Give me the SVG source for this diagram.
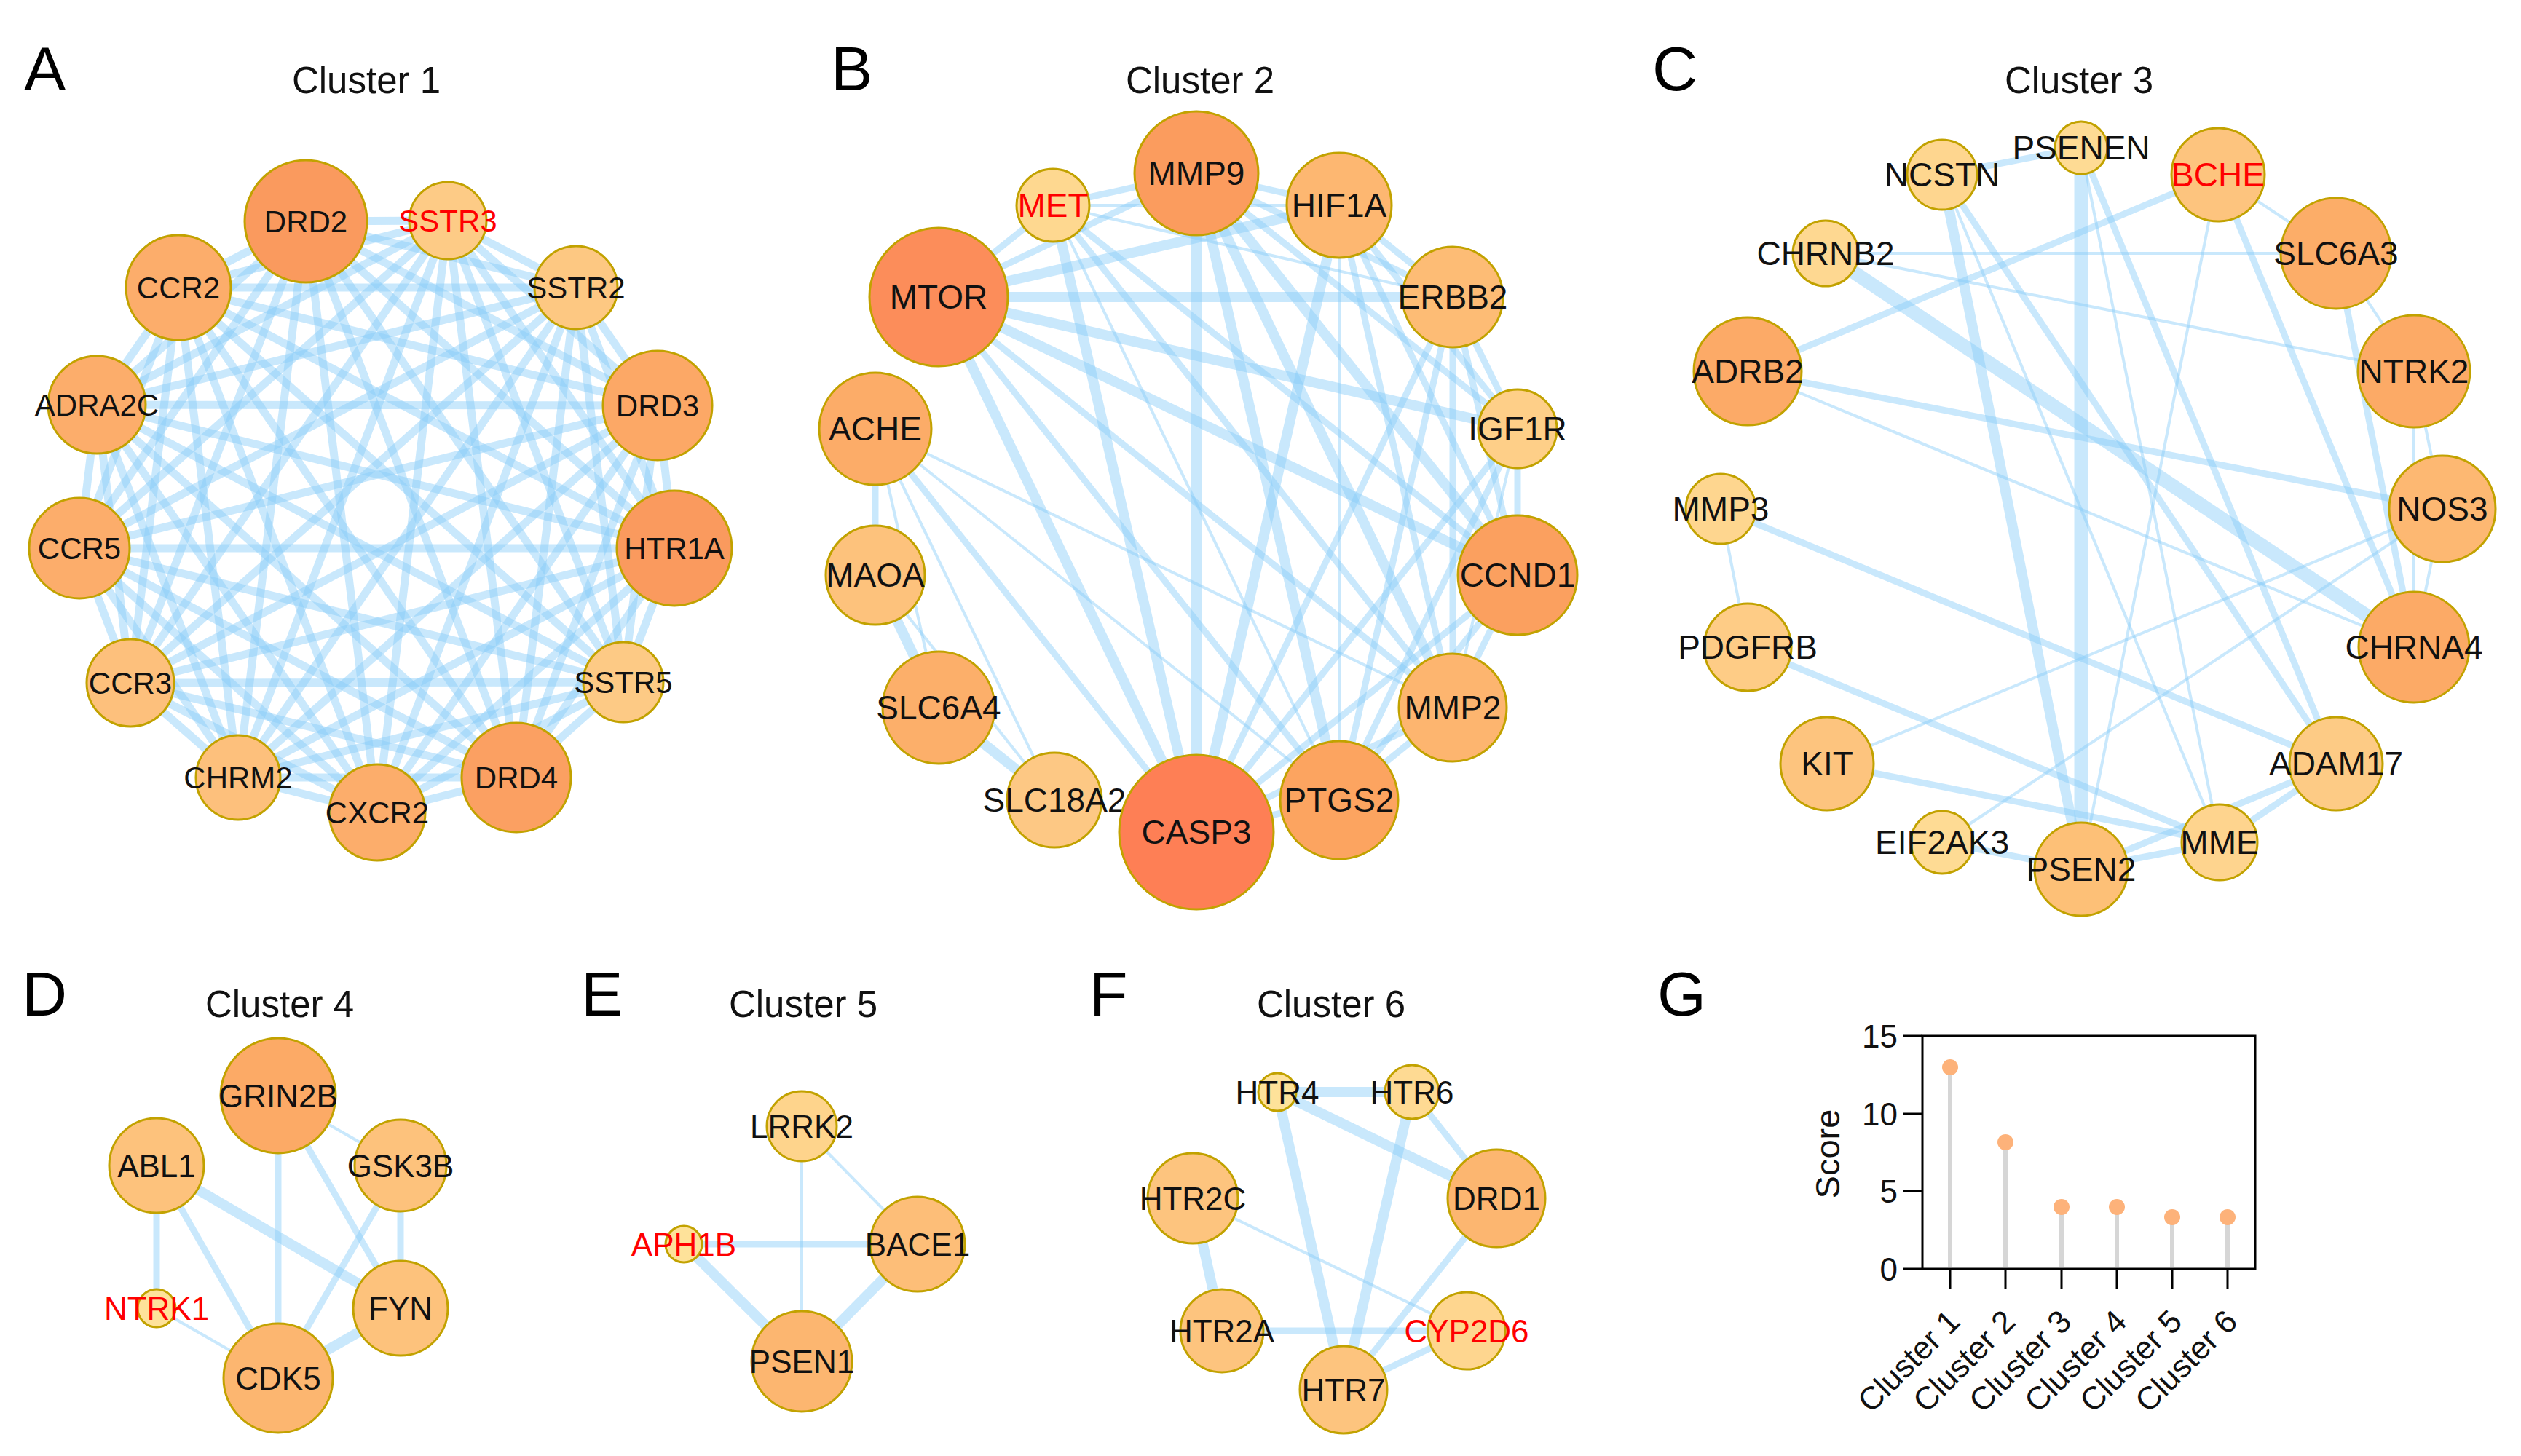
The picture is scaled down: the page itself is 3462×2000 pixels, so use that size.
<svg xmlns="http://www.w3.org/2000/svg" width="3462" height="2000" viewBox="0 0 3462 2000">
<style>
text{font-family:"Liberation Sans",Arial,sans-serif;fill:#111}
.pl{font-size:86px;fill:#000}
.ti{font-size:51px;text-anchor:middle}
.e path{stroke:#88ccf8;stroke-opacity:.45;fill:none}
.ea path{stroke-width:11}
.t{stroke-width:4}.m{stroke-width:9}.k{stroke-width:14}.x{stroke-width:19}
.n circle{stroke:#c2a200;stroke-width:3}
.n text{font-size:44px;text-anchor:middle}
.sa text{font-size:42px}
.sb text{font-size:46px}
.r text{fill:#ff0000}
.ax{stroke:#000;stroke-width:3;fill:none}
.tk{font-size:44px;text-anchor:end}
.xl{font-size:44px;text-anchor:end}
.st{stroke:#d6d6d6;stroke-width:6}
.dt{fill:#fdb27a}
</style>
<rect width="3462" height="2000" fill="#fff"/>
<g id="labels">
<text class="pl" x="33" y="124">A</text>
<text class="ti" x="503" y="128">Cluster 1</text>
<text class="pl" x="1141" y="124">B</text>
<text class="ti" x="1648" y="128">Cluster 2</text>
<text class="pl" x="2269" y="124">C</text>
<text class="ti" x="2855" y="128">Cluster 3</text>
<text class="pl" x="30" y="1395">D</text>
<text class="ti" x="384" y="1397">Cluster 4</text>
<text class="pl" x="798" y="1395">E</text>
<text class="ti" x="1103" y="1397">Cluster 5</text>
<text class="pl" x="1496" y="1395">F</text>
<text class="ti" x="1828" y="1397">Cluster 6</text>
<text class="pl" x="2276" y="1395">G</text>
</g>
<g id="connectors">
<g class="e ea">
<path d="M420 304 615 303"/><path d="M420 304 791 395"/><path d="M420 304 903 557"/><path d="M420 304 926 753"/><path d="M420 304 856 937"/><path d="M420 304 709 1068"/><path d="M420 304 518 1116"/><path d="M420 304 327 1068"/><path d="M420 304 179 938"/><path d="M420 304 109 753"/><path d="M420 304 133 556"/><path d="M420 304 245 395"/>
<path d="M615 303 791 395"/><path d="M615 303 903 557"/><path d="M615 303 926 753"/><path d="M615 303 856 937"/><path d="M615 303 709 1068"/><path d="M615 303 518 1116"/><path d="M615 303 327 1068"/><path d="M615 303 179 938"/><path d="M615 303 109 753"/><path d="M615 303 133 556"/><path d="M615 303 245 395"/>
<path d="M791 395 903 557"/><path d="M791 395 926 753"/><path d="M791 395 856 937"/><path d="M791 395 709 1068"/><path d="M791 395 518 1116"/><path d="M791 395 327 1068"/><path d="M791 395 179 938"/><path d="M791 395 109 753"/><path d="M791 395 133 556"/><path d="M791 395 245 395"/>
<path d="M903 557 926 753"/><path d="M903 557 856 937"/><path d="M903 557 709 1068"/><path d="M903 557 518 1116"/><path d="M903 557 327 1068"/><path d="M903 557 179 938"/><path d="M903 557 109 753"/><path d="M903 557 133 556"/><path d="M903 557 245 395"/>
<path d="M926 753 856 937"/><path d="M926 753 709 1068"/><path d="M926 753 518 1116"/><path d="M926 753 327 1068"/><path d="M926 753 179 938"/><path d="M926 753 109 753"/><path d="M926 753 133 556"/><path d="M926 753 245 395"/>
<path d="M856 937 709 1068"/><path d="M856 937 518 1116"/><path d="M856 937 327 1068"/><path d="M856 937 179 938"/><path d="M856 937 109 753"/><path d="M856 937 133 556"/><path d="M856 937 245 395"/>
<path d="M709 1068 518 1116"/><path d="M709 1068 327 1068"/><path d="M709 1068 179 938"/><path d="M709 1068 109 753"/><path d="M709 1068 133 556"/><path d="M709 1068 245 395"/>
<path d="M518 1116 327 1068"/><path d="M518 1116 179 938"/><path d="M518 1116 109 753"/><path d="M518 1116 133 556"/><path d="M518 1116 245 395"/>
<path d="M327 1068 179 938"/><path d="M327 1068 109 753"/><path d="M327 1068 133 556"/><path d="M327 1068 245 395"/>
<path d="M179 938 109 753"/><path d="M179 938 133 556"/><path d="M179 938 245 395"/>
<path d="M109 753 133 556"/><path d="M109 753 245 395"/>
<path d="M133 556 245 395"/>
</g>
<g class="e">
<path class="m" d="M1289 408 1446 282"/><path class="m" d="M1289 408 1643 238"/><path class="k" d="M1289 408 1839 282"/><path class="k" d="M1289 408 1995 408"/><path class="k" d="M1289 408 2084 589"/><path class="k" d="M1289 408 2084 790"/><path class="m" d="M1289 408 1995 972"/><path class="m" d="M1289 408 1839 1099"/><path class="k" d="M1289 408 1643 1143"/>
<path class="m" d="M1446 282 1643 238"/><path class="t" d="M1446 282 1839 282"/><path class="t" d="M1446 282 1995 408"/><path class="m" d="M1446 282 2084 790"/><path class="m" d="M1446 282 1995 972"/><path class="t" d="M1446 282 1839 1099"/><path class="k" d="M1446 282 1643 1143"/>
<path class="m" d="M1643 238 1839 282"/><path class="m" d="M1643 238 1995 408"/><path class="m" d="M1643 238 2084 589"/><path class="k" d="M1643 238 2084 790"/><path class="k" d="M1643 238 1995 972"/><path class="k" d="M1643 238 1839 1099"/><path class="k" d="M1643 238 1643 1143"/>
<path class="m" d="M1839 282 1995 408"/><path class="m" d="M1839 282 2084 589"/><path class="m" d="M1839 282 2084 790"/><path class="m" d="M1839 282 1995 972"/><path class="t" d="M1839 282 1839 1099"/><path class="k" d="M1839 282 1643 1143"/>
<path class="m" d="M1995 408 2084 589"/><path class="m" d="M1995 408 2084 790"/><path class="m" d="M1995 408 1995 972"/><path class="m" d="M1995 408 1839 1099"/><path class="m" d="M1995 408 1643 1143"/>
<path class="m" d="M2084 589 2084 790"/><path class="t" d="M2084 589 1995 972"/><path class="m" d="M2084 589 1839 1099"/><path class="m" d="M2084 589 1643 1143"/>
<path class="m" d="M2084 790 1995 972"/><path class="m" d="M2084 790 1839 1099"/><path class="m" d="M2084 790 1643 1143"/>
<path class="m" d="M1995 972 1839 1099"/><path class="m" d="M1995 972 1643 1143"/>
<path class="m" d="M1839 1099 1643 1143"/>
<path class="m" d="M1202 589 1202 790"/><path class="t" d="M1202 589 1289 972"/><path class="t" d="M1202 589 1448 1099"/><path class="m" d="M1202 589 1643 1143"/><path class="t" d="M1202 589 1839 1099"/><path class="t" d="M1202 589 1995 972"/>
<path class="k" d="M1202 790 1289 972"/><path class="t" d="M1202 790 1448 1099"/><path class="k" d="M1289 972 1448 1099"/>
</g>
<g class="e">
<path class="m" d="M2667 240 2858 203"/><path class="x" d="M2858 203 2858 1194"/><path class="k" d="M2667 240 2858 1194"/><path class="m" d="M2667 240 3208 1049"/><path class="t" d="M2667 240 3048 1157"/>
<path class="t" d="M2858 203 3048 1157"/><path class="m" d="M2858 203 3208 1049"/>
<path class="m" d="M3046 240 2400 510"/><path class="t" d="M3046 240 3208 348"/><path class="m" d="M3046 240 3315 889"/><path class="t" d="M3046 240 2858 1194"/>
<path class="t" d="M2507 348 3208 348"/><path class="t" d="M2507 348 3315 510"/><path class="x" d="M2507 348 3315 889"/>
<path class="t" d="M3208 348 3315 510"/><path class="m" d="M3208 348 3315 889"/>
<path class="t" d="M3315 510 3354 699"/><path class="t" d="M3315 510 3315 889"/>
<path class="m" d="M2400 510 3354 699"/><path class="t" d="M2400 510 3315 889"/>
<path class="t" d="M3354 699 2509 1049"/><path class="t" d="M3354 699 2667 1157"/><path class="t" d="M3354 699 3315 889"/>
<path class="t" d="M2363 699 2400 889"/><path class="m" d="M2363 699 3208 1049"/>
<path class="m" d="M2400 889 3048 1157"/><path class="m" d="M2509 1049 3048 1157"/>
<path class="m" d="M2667 1157 2858 1194"/><path class="m" d="M2858 1194 3048 1157"/><path class="m" d="M2858 1194 3208 1049"/><path class="m" d="M3048 1157 3208 1049"/>
</g>
<g class="e">
<path class="m" d="M215 1601 215 1797"/><path class="m" d="M215 1601 382 1893"/><path class="k" d="M215 1601 550 1797"/>
<path class="m" d="M382 1505 382 1893"/><path class="m" d="M382 1505 550 1797"/><path class="t" d="M382 1505 550 1601"/>
<path class="m" d="M550 1601 550 1797"/><path class="m" d="M550 1601 382 1893"/><path class="k" d="M550 1797 382 1893"/><path class="t" d="M215 1797 382 1893"/>
</g>
<g class="e">
<path class="t" d="M1101 1547 1101 1870"/><path class="t" d="M1101 1547 1260 1709"/><path class="m" d="M939 1709 1260 1709"/><path class="k" d="M939 1709 1101 1870"/><path class="k" d="M1260 1709 1101 1870"/>
</g>
<g class="e">
<path class="k" d="M1754 1500 1939 1500"/><path class="k" d="M1754 1500 2055 1646"/><path class="k" d="M1754 1500 1845 1909"/><path class="m" d="M1939 1500 2055 1646"/><path class="k" d="M1939 1500 1845 1909"/>
<path class="k" d="M1638 1646 1678 1828"/><path class="t" d="M1638 1646 2014 1828"/><path class="m" d="M1678 1828 2014 1828"/><path class="m" d="M2055 1646 1845 1909"/><path class="m" d="M2014 1828 1845 1909"/>
</g>
</g>
<g id="clusterA" class="sa">
<g id="A-DRD2" class="n"><circle cx="420" cy="304" r="84" fill="#fa9a5e"/><text x="420" y="319">DRD2</text></g>
<g id="A-SSTR3" class="n r"><circle cx="615" cy="303" r="53" fill="#fdcb86"/><text x="615" y="318">SSTR3</text></g>
<g id="A-SSTR2" class="n"><circle cx="791" cy="395" r="57" fill="#fdc882"/><text x="791" y="410">SSTR2</text></g>
<g id="A-DRD3" class="n"><circle cx="903" cy="557" r="75" fill="#fca866"/><text x="903" y="572">DRD3</text></g>
<g id="A-HTR1A" class="n"><circle cx="926" cy="753" r="79" fill="#fa9a5e"/><text x="926" y="768">HTR1A</text></g>
<g id="A-SSTR5" class="n"><circle cx="856" cy="937" r="55" fill="#fdca85"/><text x="856" y="952">SSTR5</text></g>
<g id="A-DRD4" class="n"><circle cx="709" cy="1068" r="75" fill="#fba062"/><text x="709" y="1083">DRD4</text></g>
<g id="A-CXCR2" class="n"><circle cx="518" cy="1116" r="66" fill="#fcad6b"/><text x="518" y="1131">CXCR2</text></g>
<g id="A-CHRM2" class="n"><circle cx="327" cy="1068" r="58" fill="#fdc07c"/><text x="327" y="1083">CHRM2</text></g>
<g id="A-CCR3" class="n"><circle cx="179" cy="938" r="60" fill="#fdc07c"/><text x="179" y="953">CCR3</text></g>
<g id="A-CCR5" class="n"><circle cx="109" cy="753" r="69" fill="#fcad6b"/><text x="109" y="768">CCR5</text></g>
<g id="A-ADRA2C" class="n"><circle cx="133" cy="556" r="67" fill="#fcad6b"/><text x="133" y="571">ADRA2C</text></g>
<g id="A-CCR2" class="n"><circle cx="245" cy="395" r="72" fill="#fcad6b"/><text x="245" y="410">CCR2</text></g>
</g>
<g id="clusterB" class="sb">
<g id="B-MMP9" class="n"><circle cx="1643" cy="238" r="85" fill="#fb9c5e"/><text x="1643" y="254">MMP9</text></g>
<g id="B-MET" class="n r"><circle cx="1446" cy="282" r="50" fill="#fed890"/><text x="1446" y="298">MET</text></g>
<g id="B-HIF1A" class="n"><circle cx="1839" cy="282" r="72" fill="#fdb771"/><text x="1839" y="298">HIF1A</text></g>
<g id="B-MTOR" class="n"><circle cx="1289" cy="408" r="95" fill="#fc8d5a"/><text x="1289" y="424">MTOR</text></g>
<g id="B-ERBB2" class="n"><circle cx="1995" cy="408" r="69" fill="#fdbc75"/><text x="1995" y="424">ERBB2</text></g>
<g id="B-ACHE" class="n"><circle cx="1202" cy="589" r="77" fill="#fcac68"/><text x="1202" y="605">ACHE</text></g>
<g id="B-IGF1R" class="n"><circle cx="2084" cy="589" r="54" fill="#fecf88"/><text x="2084" y="605">IGF1R</text></g>
<g id="B-MAOA" class="n"><circle cx="1202" cy="790" r="68" fill="#fdc27c"/><text x="1202" y="806">MAOA</text></g>
<g id="B-CCND1" class="n"><circle cx="2084" cy="790" r="82" fill="#fba05f"/><text x="2084" y="806">CCND1</text></g>
<g id="B-SLC6A4" class="n"><circle cx="1289" cy="972" r="77" fill="#fcaf6a"/><text x="1289" y="988">SLC6A4</text></g>
<g id="B-MMP2" class="n"><circle cx="1995" cy="972" r="74" fill="#fdb56f"/><text x="1995" y="988">MMP2</text></g>
<g id="B-SLC18A2" class="n"><circle cx="1448" cy="1099" r="65" fill="#fdc884"/><text x="1448" y="1115">SLC18A2</text></g>
<g id="B-CASP3" class="n"><circle cx="1643" cy="1143" r="106" fill="#fe7f55"/><text x="1643" y="1159">CASP3</text></g>
<g id="B-PTGS2" class="n"><circle cx="1839" cy="1099" r="81" fill="#fca460"/><text x="1839" y="1115">PTGS2</text></g>
</g>
<g id="clusterC" class="sb">
<g id="C-PSENEN" class="n"><circle cx="2858" cy="203" r="36" fill="#fedb94"/><text x="2858" y="219">PSENEN</text></g>
<g id="C-NCSTN" class="n"><circle cx="2667" cy="240" r="48" fill="#fed68f"/><text x="2667" y="256">NCSTN</text></g>
<g id="C-BCHE" class="n r"><circle cx="3046" cy="240" r="64" fill="#fdc47e"/><text x="3046" y="256">BCHE</text></g>
<g id="C-CHRNB2" class="n"><circle cx="2507" cy="348" r="45" fill="#fed891"/><text x="2507" y="364">CHRNB2</text></g>
<g id="C-SLC6A3" class="n"><circle cx="3208" cy="348" r="76" fill="#fcad68"/><text x="3208" y="364">SLC6A3</text></g>
<g id="C-ADRB2" class="n"><circle cx="2400" cy="510" r="74" fill="#fcaa67"/><text x="2400" y="526">ADRB2</text></g>
<g id="C-NTRK2" class="n"><circle cx="3315" cy="510" r="77" fill="#fcaa66"/><text x="3315" y="526">NTRK2</text></g>
<g id="C-MMP3" class="n"><circle cx="2363" cy="699" r="48" fill="#fed68f"/><text x="2363" y="715">MMP3</text></g>
<g id="C-NOS3" class="n"><circle cx="3354" cy="699" r="73" fill="#fdb872"/><text x="3354" y="715">NOS3</text></g>
<g id="C-PDGFRB" class="n"><circle cx="2400" cy="889" r="60" fill="#fecc86"/><text x="2400" y="905">PDGFRB</text></g>
<g id="C-CHRNA4" class="n"><circle cx="3315" cy="889" r="76" fill="#fcaa66"/><text x="3315" y="905">CHRNA4</text></g>
<g id="C-KIT" class="n"><circle cx="2509" cy="1049" r="64" fill="#fdc47e"/><text x="2509" y="1065">KIT</text></g>
<g id="C-ADAM17" class="n"><circle cx="3208" cy="1049" r="64" fill="#fdcb85"/><text x="3208" y="1065">ADAM17</text></g>
<g id="C-EIF2AK3" class="n"><circle cx="2667" cy="1157" r="43" fill="#fedb94"/><text x="2667" y="1173">EIF2AK3</text></g>
<g id="C-MME" class="n"><circle cx="3048" cy="1157" r="52" fill="#fed48e"/><text x="3048" y="1173">MME</text></g>
<g id="C-PSEN2" class="n"><circle cx="2858" cy="1194" r="64" fill="#fdc077"/><text x="2858" y="1210">PSEN2</text></g>
</g>
<g id="clusterD">
<g id="D-GRIN2B" class="n"><circle cx="382" cy="1505" r="79" fill="#fcaa66"/><text x="382" y="1521">GRIN2B</text></g>
<g id="D-ABL1" class="n"><circle cx="215" cy="1601" r="65" fill="#fdc27c"/><text x="215" y="1617">ABL1</text></g>
<g id="D-GSK3B" class="n"><circle cx="550" cy="1601" r="63" fill="#fdc27c"/><text x="550" y="1617">GSK3B</text></g>
<g id="D-NTRK1" class="n r"><circle cx="215" cy="1797" r="26" fill="#fee29a"/><text x="215" y="1813">NTRK1</text></g>
<g id="D-FYN" class="n"><circle cx="550" cy="1797" r="65" fill="#fdc27c"/><text x="550" y="1813">FYN</text></g>
<g id="D-CDK5" class="n"><circle cx="382" cy="1893" r="75" fill="#fcb670"/><text x="382" y="1909">CDK5</text></g>
</g>
<g id="clusterE">
<g id="E-LRRK2" class="n"><circle cx="1101" cy="1547" r="48" fill="#fed48c"/><text x="1101" y="1563">LRRK2</text></g>
<g id="E-APH1B" class="n r"><circle cx="939" cy="1709" r="25" fill="#fee29a"/><text x="939" y="1725">APH1B</text></g>
<g id="E-BACE1" class="n"><circle cx="1260" cy="1709" r="65" fill="#fdbe78"/><text x="1260" y="1725">BACE1</text></g>
<g id="E-PSEN1" class="n"><circle cx="1101" cy="1870" r="69" fill="#fcb670"/><text x="1101" y="1886">PSEN1</text></g>
</g>
<g id="clusterF">
<g id="F-HTR4" class="n"><circle cx="1754" cy="1500" r="26" fill="#fee29a"/><text x="1754" y="1516">HTR4</text></g>
<g id="F-HTR6" class="n"><circle cx="1939" cy="1500" r="37" fill="#feda93"/><text x="1939" y="1516">HTR6</text></g>
<g id="F-HTR2C" class="n"><circle cx="1638" cy="1646" r="62" fill="#fdc47e"/><text x="1638" y="1662">HTR2C</text></g>
<g id="F-DRD1" class="n"><circle cx="2055" cy="1646" r="67" fill="#fcb670"/><text x="2055" y="1662">DRD1</text></g>
<g id="F-HTR2A" class="n"><circle cx="1678" cy="1828" r="57" fill="#fdc47e"/><text x="1678" y="1844">HTR2A</text></g>
<g id="F-CYP2D6" class="n r"><circle cx="2014" cy="1828" r="53" fill="#fed68f"/><text x="2014" y="1844">CYP2D6</text></g>
<g id="F-HTR7" class="n"><circle cx="1845" cy="1909" r="60" fill="#fdc47e"/><text x="1845" y="1925">HTR7</text></g>
</g>
<g id="chartG">
<g class="st">
<line x1="2678" y1="1740" x2="2678" y2="1466"/><line x1="2754" y1="1740" x2="2754" y2="1569"/><line x1="2831" y1="1740" x2="2831" y2="1658"/><line x1="2907" y1="1740" x2="2907" y2="1658"/><line x1="2983" y1="1740" x2="2983" y2="1672"/><line x1="3059" y1="1740" x2="3059" y2="1672"/>
</g>
<g class="dt">
<circle cx="2678" cy="1466" r="11"/><circle cx="2754" cy="1569" r="11"/><circle cx="2831" cy="1658" r="11"/><circle cx="2907" cy="1658" r="11"/><circle cx="2983" cy="1672" r="11"/><circle cx="3059" cy="1672" r="11"/>
</g>
<rect class="ax" x="2640" y="1423" width="457" height="320"/>
<path class="ax" d="M2614 1423H2640M2614 1530H2640M2614 1636H2640M2614 1743H2640M2678 1743V1771M2754 1743V1771M2831 1743V1771M2907 1743V1771M2983 1743V1771M3059 1743V1771"/>
<text class="tk" x="2606" y="1439">15</text>
<text class="tk" x="2606" y="1546">10</text>
<text class="tk" x="2606" y="1652">5</text>
<text class="tk" x="2606" y="1759">0</text>
<text x="2526" y="1585" font-size="47" text-anchor="middle" transform="rotate(-90 2526 1585)">Score</text>
<text class="xl" transform="translate(2694 1818) rotate(-45)">Cluster 1</text>
<text class="xl" transform="translate(2770 1818) rotate(-45)">Cluster 2</text>
<text class="xl" transform="translate(2847 1818) rotate(-45)">Cluster 3</text>
<text class="xl" transform="translate(2923 1818) rotate(-45)">Cluster 4</text>
<text class="xl" transform="translate(2999 1818) rotate(-45)">Cluster 5</text>
<text class="xl" transform="translate(3075 1818) rotate(-45)">Cluster 6</text>
</g>
</svg>
